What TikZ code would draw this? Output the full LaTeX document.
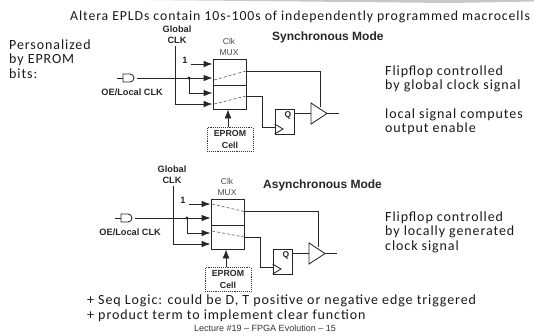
\documentclass[tikz,border=0pt]{standalone}
\usepackage{fontspec}
\setmainfont{Liberation Sans}
\newfontfamily\hand[LetterSpace=6.5]{Carlito}
\usetikzlibrary{arrows.meta,calc}
\tikzset{
 hw/.style={font=\hand\fontsize{14}{14.5}\selectfont,anchor=west,inner sep=0,align=left,text=black!90},
 lab/.style={font=\bfseries\fontsize{9.2}{11.5}\selectfont,inner sep=0,align=center,text=black!85},
 thin lab/.style={font=\fontsize{8.5}{11}\selectfont,inner sep=0,align=center,text=black!70},
 head/.style={font=\bfseries\fontsize{12}{13}\selectfont,inner sep=0,anchor=west,text=black!85},
 wire/.style={draw=black!85,line width=0.85pt},
 arr/.style={wire,-{Latex[length=9pt,width=6.5pt]}},
 sel/.style={densely dashed,draw=black!65,line width=0.6pt},
 eprom/.style={draw=black!80,densely dotted,line width=0.9pt,minimum width=46pt,minimum height=23.5pt,inner sep=0,font=\bfseries\fontsize{8.8}{11.5}\selectfont,align=center,text=black!85},
 ffbox/.style={wire,fill=white,minimum width=19pt,minimum height=25pt,inner sep=0},
 muxbox/.style={wire,minimum width=33pt,minimum height=50pt,inner sep=0},
}
% #1 prefix, #2 dx, #3 dy, #4/#5 top selector y left/right, #6/#7 bottom selector y left/right, #8 Global label x
\newcommand{\macrocell}[8]{%
\begin{scope}[shift={(#2,#3)}]
 \node[muxbox] (#1mux) at (229.5,84) {};
 \draw[wire] (#1mux.west |- 0,85) -- (#1mux.east |- 0,85);
 \node[lab] (#1glob) at (#8,34.5) {Global\\CLK};
 \node[thin lab] (#1clk) at (229,47) {Clk\\MUX};
 \node[lab] (#1one) at (185,60) {1};
 \node[lab,anchor=east] (#1oe) at (163,92) {OE/Local CLK};
 \coordinate (#1in) at (117,78);
 \coordinate (#1ga) at (123,78);
 \coordinate (#1gb) at (137,78);
 \draw[wire] (#1ga |- 0,74) -- (130,74) arc (90:-90:4pt) -- (#1ga |- 0,82) -- cycle;
 \draw[wire] (#1in) -- (#1ga);
 \coordinate (#1j) at (189,78);
 \draw[arr] (#1gb) -- (#1mux.west |- 0,78);
 \fill[black!85] (#1j) circle (1.6pt);
 \draw[arr] (#1j) |- (#1mux.west |- 0,93);
 \coordinate (#1gt) at (175,46);
 \draw[arr] (#1gt) |- (#1mux.west |- 0,104);
 \coordinate (#1os) at (191,64);
 \draw[arr] (#1os) -- (#1mux.west |- 0,64);
 \node[eprom] (#1ep) at (230,139.5) {EPROM\\Cell};
 \draw[wire,-{Latex[length=9pt,width=7pt]}] (#1ep.north -| 228,0) -- (#1mux.south -| 228,0);
 \node[ffbox] (#1ff) at (284.5,121.5) {};
 \node[lab,font=\bfseries\fontsize{8.5}{10}\selectfont] (#1q) at (288,115.5) {Q};
 \draw[wire] (#1ff.west |- 0,124) -- (283,129) -- (#1ff.west |- 0,134);
 \coordinate (#1bi) at (311,113.5);
 \coordinate (#1bo) at (327,113.5);
 \draw[wire] (311,103) -- (#1bo) -- (311,124) -- cycle;
 \draw[wire] (#1ff.east |- 0,113.5) -- (#1bi);
 \draw[wire] (#1bo) -- (339,113.5);
 \coordinate (#1s1l) at (214,#4);
 \coordinate (#1s1r) at (246,#5);
 \coordinate (#1s2l) at (214,#6);
 \coordinate (#1s2r) at (246,#7);
 \draw[sel] (#1s1l) -- (#1s1r);
 \draw[sel] (#1s2l) -- (#1s2r);
 \draw[wire] (#1s1r) -| (320,107);
 \draw[wire] (#1s2r) -- (262,#7) |- (#1ff.west |- 0,127);
\end{scope}}
\begin{document}
\begin{tikzpicture}[x=1pt,y=-1pt]
\useasboundingbox (0,0) rectangle (534,335);
\fill[black!22] (148,0) -- (534,0) -- (534,1.5) -- (450,3) -- (300,1.5) -- cycle;
\node[hw,font=\hand\fontsize{13.8}{14.5}\selectfont] (title) at (70,17) {Altera EPLDs contain 10s-100s of independently programmed macrocells};
\node[hw] (pers) at (9,59) {Personalized\\by EPROM\\bits:};
\node[head] (sync) at (272,37) {Synchronous Mode};
\node[head] (async) at (263,185) {Asynchronous Mode};
\node[hw] (t1) at (385,79) {Flipflop controlled\\by global clock signal};
\node[hw] (t2) at (385,122) {local signal computes\\output enable};
\node[hw] (t3) at (385,232) {Flipflop controlled\\by locally generated\\clock signal};
\node[hw] (t4) at (87,301) {+ Seq Logic: could be D, T positive or negative edge triggered};
\node[hw] (t5) at (87,316) {+ product term to implement clear function};
\node[inner sep=0,font=\fontsize{9}{10}\selectfont,text=black!80] (foot) at (265,328) {Lecture \#19 -- FPGA Evolution -- 15};
\macrocell{a}{0}{0}{80}{71}{104}{96}{177}
\macrocell{b}{-2}{140}{64}{71.5}{91}{97}{174}
\end{tikzpicture}
\end{document}
